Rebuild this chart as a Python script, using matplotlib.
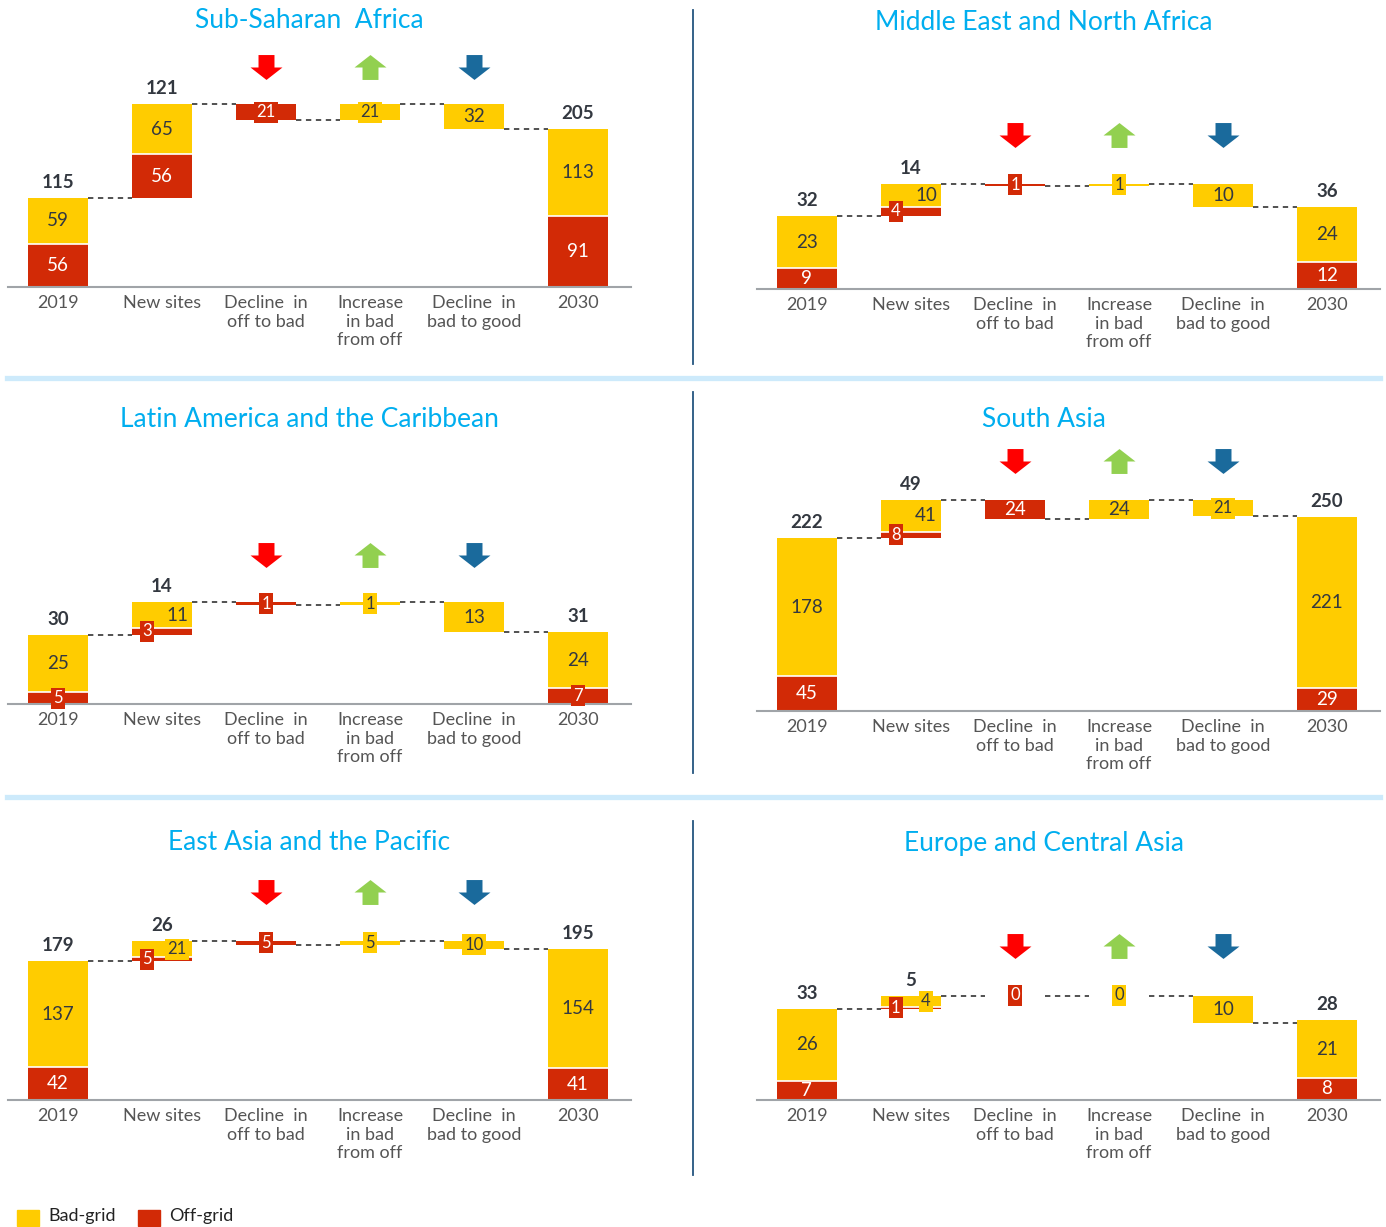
import matplotlib
matplotlib.use("Agg")
import matplotlib.pyplot as plt
from matplotlib.path import Path
from matplotlib.lines import Line2D
from matplotlib.patches import Rectangle

plt.rcParams['font.family'] = ['Lato', 'DejaVu Sans']

# ---- data (millions of people, by region) ----
REGIONS = ['Sub-Saharan  Africa', 'Middle East and North Africa',
           'Latin America and the Caribbean', 'South Asia',
           'East Asia and the Pacific', 'Europe and Central Asia']
CATEGORIES = ['2019', 'New sites', 'Decline  in\noff to bad',
              'Increase\nin bad\nfrom off', 'Decline  in\nbad to good', '2030']

OFF_2019 = [56, 9, 5, 45, 42, 7]
BAD_2019 = [59, 23, 25, 178, 137, 26]
TOTAL_2019 = [115, 32, 30, 222, 179, 33]
NEW_OFF = [56, 4, 3, 8, 5, 1]
NEW_BAD = [65, 10, 11, 41, 21, 4]
NEW_TOTAL = [121, 14, 14, 49, 26, 5]
OFF_TO_BAD = [21, 1, 1, 24, 5, 0]
BAD_FROM_OFF = [21, 1, 1, 24, 5, 0]
BAD_TO_GOOD = [32, 10, 13, 21, 10, 10]
OFF_2030 = [91, 12, 7, 29, 41, 8]
BAD_2030 = [113, 24, 24, 221, 154, 21]
TOTAL_2030 = [205, 36, 31, 250, 195, 28]

# ---- style ----
YELLOW = '#ffcc00'
RED = '#d22a06'
ARROW_COLORS = ['#ff0000', '#92d050', '#1a6a9c']
TITLE_COLOR = '#00aeef'
DARK = '#333840'

W, H = 1386, 1227
fig = plt.figure(figsize=(W / 100, H / 100), dpi=100)

# panel layout in pixels: left edge, baseline, px per unit, arrow height above baseline
PANEL_X = [8, 757, 8, 757, 8, 757]
BASELINE = [287, 289, 704, 711, 1100, 1100]
SCALE = [0.775, 2.29, 2.31, 0.776, 0.776, 2.75]
ARROW_PX = [220, 154, 149, 250, 208, 154]
TITLE_Y = [21, 23, 419, 419, 843, 843]
TITLE_X = [309, 1044, 309, 1044, 309, 1044]
AX_W, AX_H = 623, 260
BAR_W = 0.577

down = Path([(-0.5, 0.78), (0.5, 0.78), (0.5, 0.0), (1.0, 0.0), (0.0, -0.78),
             (-1.0, 0.0), (-0.5, 0.0), (-0.5, 0.78)], closed=True)
up = Path([(x, -y) for x, y in down.vertices], closed=True)


def seg_label(ax, x, y, value, color, px_h):
    boxed = px_h < 17
    kw = dict(ha='center', va='center', fontsize=12 if boxed else 13.5,
              color='white' if color == RED else DARK, zorder=5)
    if boxed:
        kw['bbox'] = dict(boxstyle='square,pad=0.15', fc=color, ec='none')
    ax.text(x, y, str(value), **kw)


def total_label(ax, x, top, value):
    ax.annotate(str(value), (x, top), xytext=(0, 5), textcoords='offset points',
                ha='center', va='bottom', fontsize=13.5, fontweight='bold', color=DARK)


for i in range(6):
    s = SCALE[i]
    ax = fig.add_axes([PANEL_X[i] / W, 1 - BASELINE[i] / H, AX_W / W, AX_H / H])
    ax.set_xlim(-0.48, 5.51)
    ax.set_ylim(0, AX_H / s)
    for sp in ['top', 'left', 'right']:
        ax.spines[sp].set_visible(False)
    ax.spines['bottom'].set_color('#a0a4a8')
    ax.spines['bottom'].set_linewidth(1.5)
    ax.set_yticks([])
    ax.set_xticks(range(6))
    ax.set_xticklabels(CATEGORIES, fontsize=13, color='#555555', linespacing=1.18)
    ax.tick_params(axis='x', length=0, pad=6)

    # waterfall levels
    l0 = OFF_2019[i] + BAD_2019[i]
    l1 = l0 + NEW_OFF[i] + NEW_BAD[i]
    l2 = l1 - OFF_TO_BAD[i]
    l3 = l2 + BAD_FROM_OFF[i]
    l4 = l3 - BAD_TO_GOOD[i]
    l5 = OFF_2030[i] + BAD_2030[i]

    # stacked bars: 2019, new sites, 2030
    stacks = [(0, 0, OFF_2019[i], BAD_2019[i]),
              (1, l0, NEW_OFF[i], NEW_BAD[i]),
              (5, 0, OFF_2030[i], BAD_2030[i])]
    for x, base, off, bad in stacks:
        ax.bar(x, off, BAR_W, bottom=base, color=RED, linewidth=0)
        ax.bar(x, bad, BAR_W, bottom=base + off, color=YELLOW, linewidth=0)
        ax.plot([x - BAR_W / 2, x + BAR_W / 2], [base + off] * 2, color='white', lw=1.2)
        boxed = off * s < 17 or bad * s < 17
        dx = 0.145 if (x == 1 and boxed) else 0
        seg_label(ax, x - dx, base + off / 2, off, RED, off * s)
        seg_label(ax, x + dx, base + off + bad / 2, bad, YELLOW, bad * s)

    total_label(ax, 0, l0, TOTAL_2019[i])
    total_label(ax, 1, l1, NEW_TOTAL[i])
    total_label(ax, 5, l5, TOTAL_2030[i])

    # floating transitions
    moves = [(2, l2, OFF_TO_BAD[i], RED), (3, l2, BAD_FROM_OFF[i], YELLOW),
             (4, l4, BAD_TO_GOOD[i], YELLOW)]
    for x, base, val, col in moves:
        ax.bar(x, val, BAR_W, bottom=base, color=col, linewidth=0)
        seg_label(ax, x, base + val / 2, val, col, val * s)

    # dashed connectors
    for x, lev in [(0, l0), (1, l1), (2, l2), (3, l3), (4, l4)]:
        ax.plot([x + BAR_W / 2, x + 1 - BAR_W / 2], [lev, lev], color='#222222',
                lw=1.1, ls=(0, (3.5, 3)), zorder=1)

    # arrows
    ya = ARROW_PX[i] / s
    for x, mk, col in [(2, down, ARROW_COLORS[0]), (3, up, ARROW_COLORS[1]),
                       (4, down, ARROW_COLORS[2])]:
        ax.plot(x, ya, marker=mk, markersize=23, color=col, mew=0, clip_on=False)

    fig.text(TITLE_X[i] / W, 1 - TITLE_Y[i] / H, REGIONS[i], ha='center', va='center',
             fontsize=19, color=TITLE_COLOR)

# separators
for y in [378, 797]:
    fig.add_artist(Line2D([7 / W, 1380 / W], [1 - y / H] * 2, color='#cdeafb', lw=3.8))
for y0, y1 in [(10, 364), (392, 773), (821, 1175)]:
    fig.add_artist(Line2D([693 / W] * 2, [1 - y0 / H, 1 - y1 / H], color='#24557f', lw=1.3))

# legend
for x0, col, lab in [(17, YELLOW, 'Bad-grid'), (138, RED, 'Off-grid')]:
    fig.add_artist(Rectangle((x0 / W, 1 - 1226 / H), 22 / W, 16 / H, color=col,
                             transform=fig.transFigure))
    fig.text((x0 + 31) / W, 1 - 1216 / H, lab, va='center', fontsize=13, color='#222222')

fig.savefig('out.png', dpi=100, facecolor='white')
